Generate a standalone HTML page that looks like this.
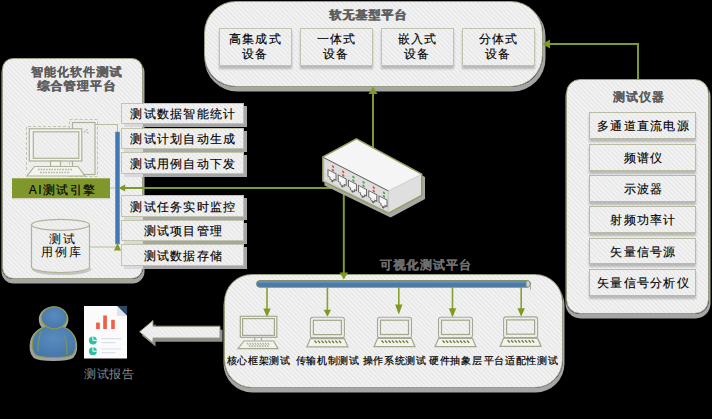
<!DOCTYPE html>
<html><head><meta charset="utf-8">
<style>
*{margin:0;padding:0;box-sizing:border-box}
html,body{width:712px;height:419px;overflow:hidden;background:#000}
body{position:relative;font-family:"Liberation Sans",sans-serif;}
.stripe{background:repeating-linear-gradient(45deg,#f2f2f2 0px,#f2f2f2 1px,#e5e5e5 2.1px,#f2f2f2 3.2px)}
.panel{position:absolute;border:1.4px solid #9a9e80;box-shadow:0.5px 3.5px 0.5px 1px #a5a5a5}
.item{position:absolute;-webkit-text-stroke:0.15px #000;border:1px solid #c2c5ad;box-shadow:3px 3px 0 #a6a6a6;font-size:12px;letter-spacing:1.3px;color:#000;text-align:center;white-space:nowrap}
.t{position:absolute;white-space:nowrap}
.title{font-size:12px;font-weight:bold;color:#5c5c5c;letter-spacing:1px;text-shadow:0.6px 0 0 currentColor}
svg{position:absolute;left:0;top:0}
</style></head><body>




<!-- top panel -->
<div class="panel stripe" style="left:204px;top:1px;width:339px;height:86px;border-radius:32px;box-shadow:1.5px 3.5px 0.5px 1px #a5a5a5"></div>
<div class="t title" style="left:329px;top:6.8px">软无基型平台</div>
<div class="item stripe" style="left:219px;top:28px;width:73px;height:38px;line-height:15px;padding-top:3px;box-shadow:0 2.5px 2px rgba(0,0,0,0.22)">高集成式<br>设备</div>
<div class="item stripe" style="left:300px;top:28px;width:73px;height:38px;line-height:15px;padding-top:3px;box-shadow:0 2.5px 2px rgba(0,0,0,0.22)">一体式<br>设备</div>
<div class="item stripe" style="left:381px;top:28px;width:73px;height:38px;line-height:15px;padding-top:3px;box-shadow:0 2.5px 2px rgba(0,0,0,0.22)">嵌入式<br>设备</div>
<div class="item stripe" style="left:462px;top:28px;width:73px;height:38px;line-height:15px;padding-top:3px;box-shadow:0 2.5px 2px rgba(0,0,0,0.22)">分体式<br>设备</div>

<!-- item shadows -->
<div style="position:absolute;left:124px;top:106px;width:123px;height:21px;background:#a6a6a6"></div>
<div style="position:absolute;left:124px;top:131px;width:123px;height:21px;background:#a6a6a6"></div>
<div style="position:absolute;left:124px;top:155px;width:123px;height:22px;background:#a6a6a6"></div>
<div style="position:absolute;left:124px;top:198px;width:123px;height:22px;background:#a6a6a6"></div>
<div style="position:absolute;left:124px;top:223px;width:123px;height:21px;background:#a6a6a6"></div>
<div style="position:absolute;left:124px;top:247px;width:123px;height:22px;background:#a6a6a6"></div>
<!-- left panel -->
<div class="panel stripe" style="left:2px;top:58px;width:141px;height:221px;border-radius:11px"></div>
<div class="t title" style="left:30.5px;top:64px;letter-spacing:1.1px">智能化软件测试</div>
<div class="t title" style="left:37px;top:77.5px;letter-spacing:1.2px">综合管理平台</div>

<div style="position:absolute;left:124px;top:124px;width:18.5px;height:3px;background:#d9d9d9"></div>
<div style="position:absolute;left:124px;top:149px;width:18.5px;height:3px;background:#d9d9d9"></div>
<div style="position:absolute;left:124px;top:174px;width:18.5px;height:3px;background:#d9d9d9"></div>
<div style="position:absolute;left:124px;top:217px;width:18.5px;height:3px;background:#d9d9d9"></div>
<div style="position:absolute;left:124px;top:241px;width:18.5px;height:3px;background:#d9d9d9"></div>
<div style="position:absolute;left:124px;top:266px;width:18.5px;height:3px;background:#d9d9d9"></div>
<!-- right panel -->
<div class="panel stripe" style="left:566px;top:79px;width:143px;height:235px;border-radius:14px"></div>
<div class="t title" style="left:612.5px;top:88.8px">测试仪器</div>

<!-- bottom panel -->
<div class="panel stripe" style="left:224px;top:274px;width:339px;height:114px;border-radius:28px"></div>
<div class="t title" style="left:380px;top:257px;color:#6e6e6e;letter-spacing:1.2px;text-shadow:0.3px 0 0 #6e6e6e">可视化测试平台</div>

<!-- list items -->
<div class="item stripe" style="left:121px;top:103px;width:123px;height:21px;box-shadow:none;line-height:21px;padding-left:2px">测试数据智能统计</div>
<div class="item stripe" style="left:121px;top:128px;width:123px;height:21px;box-shadow:none;line-height:21px;padding-left:2px">测试计划自动生成</div>
<div class="item stripe" style="left:121px;top:152px;width:123px;height:22px;box-shadow:none;line-height:22px;padding-left:2px">测试用例自动下发</div>
<div class="item stripe" style="left:121px;top:195px;width:123px;height:22px;box-shadow:none;line-height:22px;padding-left:2px">测试任务实时监控</div>
<div class="item stripe" style="left:121px;top:220px;width:123px;height:21px;box-shadow:none;line-height:21px;padding-left:2px">测试项目管理</div>
<div class="item stripe" style="left:121px;top:244px;width:123px;height:22px;box-shadow:none;line-height:22px;padding-left:2px">测试数据存储</div>

<!-- right items -->
<div class="item stripe" style="left:589px;top:112px;width:107px;height:27px;line-height:27px;padding-left:2px;box-shadow:0 2.5px 2px rgba(0,0,0,0.22);border-color:#b9bca4;border-width:1.3px">多通道直流电源</div>
<div class="item stripe" style="left:589px;top:144px;width:107px;height:27px;line-height:27px;padding-left:2px;box-shadow:0 2.5px 2px rgba(0,0,0,0.22);border-color:#b9bca4;border-width:1.3px">频谱仪</div>
<div class="item stripe" style="left:589px;top:175px;width:107px;height:27px;line-height:27px;padding-left:2px;box-shadow:0 2.5px 2px rgba(0,0,0,0.22);border-color:#b9bca4;border-width:1.3px">示波器</div>
<div class="item stripe" style="left:589px;top:206px;width:107px;height:27px;line-height:27px;padding-left:2px;box-shadow:0 2.5px 2px rgba(0,0,0,0.22);border-color:#b9bca4;border-width:1.3px">射频功率计</div>
<div class="item stripe" style="left:589px;top:238px;width:107px;height:26px;line-height:26px;padding-left:2px;box-shadow:0 2.5px 2px rgba(0,0,0,0.22);border-color:#b9bca4;border-width:1.3px">矢量信号源</div>
<div class="item stripe" style="left:589px;top:269px;width:107px;height:27px;line-height:27px;padding-left:2px;box-shadow:0 2.5px 2px rgba(0,0,0,0.22);border-color:#b9bca4;border-width:1.3px">矢量信号分析仪</div>

<svg width="712" height="419">
<defs>
<pattern id="st" patternUnits="userSpaceOnUse" width="4.5" height="4.5"><rect width="4.5" height="4.5" fill="#f2f2f2"/><path d="M-1 3.5 l2 2 M0 0 l4.5 4.5 M3.5 -1 l2 2" stroke="#e6e6e6" stroke-width="1.4"/></pattern>
</defs>
<g stroke="#80992c" stroke-width="2" fill="none">
<path d="M373 94 V148"/>
<path d="M549 44 H638 V79"/>
<path d="M125 188 H343.8 V273"/>
</g>
<g fill="#7f9a22">
<path d="M373 86.5 L377.5 94 L368.5 94 Z"/>
<path d="M542.5 44 L550 39.5 L550 48.5 Z"/>
<path d="M343.8 279.5 L339.6 272.5 L348 272.5 Z"/>
</g>


<!-- left arrowhead -->
<path d="M118.4 188 L125.2 184.6 L125.2 191.4 Z" fill="#7f9a22"/>
<!-- switch -->
<g>
<path d="M358.5 141.5 L425 177 V199 L390.6 217.5 L324.5 185.5 V160 Z" fill="#a8a8a8"/>
<path d="M356.4 139 L421.6 174.3 V195.2 L388.6 213 L323 181 V157 Z" fill="#e8e8e8" stroke="#8e9b5c" stroke-width="1.6" stroke-linejoin="round"/>
<path d="M356.4 139 L421.6 174.3 L388.6 190.8 L323 157 Z" fill="#f5f5f5"/>
<path d="M388.6 190.8 L421.6 174.3 V195.2 L388.6 213 Z" fill="#dfdfdf"/>
<path d="M323 157 L388.6 190.8 V213 L323 181 Z" fill="#d4d4d4"/>
<path d="M325 159.5 L387 191.5 V211 L325 179.5 Z" fill="#dedede"/>
<path d="M356.4 139 L421.6 174.3 V195.2 L388.6 213 L323 181 V157 Z" fill="none" stroke="#94a062" stroke-width="1.2" stroke-linejoin="round"/>
<path d="M323.5 157.5 L388.6 191" fill="none" stroke="#555" stroke-width="0.9"/><path d="M388.6 190.8 L421.6 174.3 M388.6 190.8 V213" fill="none" stroke="#c4c4c4" stroke-width="0.7"/>
<g transform="matrix(1,0.515,0,1,323,157)">
<path d="M5.0 10 h8 v6.5 h-2 v2 h-1.5 v1.5 h-1 v-1.5 h-1.5 v-2 h-2 Z" fill="#f6f6f6" stroke="#5a5a5a" stroke-width="0.9"/>
<circle cx="10.0" cy="4.5" r="1.2" fill="#c85550"/><circle cx="10.0" cy="8" r="1.2" fill="#c85550"/>
<path d="M15.2 10 h8 v6.5 h-2 v2 h-1.5 v1.5 h-1 v-1.5 h-1.5 v-2 h-2 Z" fill="#f6f6f6" stroke="#5a5a5a" stroke-width="0.9"/>
<circle cx="20.2" cy="4.5" r="1.2" fill="#c85550"/><circle cx="20.2" cy="8" r="1.2" fill="#c85550"/>
<path d="M25.4 10 h8 v6.5 h-2 v2 h-1.5 v1.5 h-1 v-1.5 h-1.5 v-2 h-2 Z" fill="#f6f6f6" stroke="#5a5a5a" stroke-width="0.9"/>
<circle cx="30.4" cy="4.5" r="1.2" fill="#4fa048"/><circle cx="30.4" cy="8" r="1.2" fill="#4fa048"/>
<path d="M35.599999999999994 10 h8 v6.5 h-2 v2 h-1.5 v1.5 h-1 v-1.5 h-1.5 v-2 h-2 Z" fill="#f6f6f6" stroke="#5a5a5a" stroke-width="0.9"/>
<circle cx="40.599999999999994" cy="4.5" r="1.2" fill="#4fa048"/><circle cx="40.599999999999994" cy="8" r="1.2" fill="#4fa048"/>
<path d="M45.8 10 h8 v6.5 h-2 v2 h-1.5 v1.5 h-1 v-1.5 h-1.5 v-2 h-2 Z" fill="#f6f6f6" stroke="#5a5a5a" stroke-width="0.9"/>
<circle cx="50.8" cy="4.5" r="1.2" fill="#c85550"/><circle cx="50.8" cy="8" r="1.2" fill="#c85550"/>
<path d="M56.0 10 h8 v6.5 h-2 v2 h-1.5 v1.5 h-1 v-1.5 h-1.5 v-2 h-2 Z" fill="#f6f6f6" stroke="#5a5a5a" stroke-width="0.9"/>
<circle cx="61.0" cy="4.5" r="1.2" fill="#4fa048"/><circle cx="61.0" cy="8" r="1.2" fill="#4fa048"/>
</g>
</g>
<!-- left computer -->
<g stroke="#c3c5b3" fill="none" stroke-width="1" stroke-dasharray="3 2">
<path d="M26.5 170 V126.5 H69.5"/>
<rect x="69.5" y="119.5" width="28" height="57"/>
</g>
<g stroke="#aeb196" fill="url(#st)" stroke-width="1.2">
<rect x="72.5" y="122.5" width="22.5" height="52"/>
<rect x="29.3" y="128.8" width="52.5" height="32.2" fill="#f3f3f0"/>
<rect x="33.3" y="131.8" width="45.5" height="26.5"/>
<rect x="50.5" y="161" width="10" height="5.5" fill="#f3f3f0"/>
<path d="M34.5 166.5 H78 L85 176 H27 Z" fill="#f3f3f0"/>
</g>
<g fill="#b5b7a3">
<rect x="86" y="129" width="1.5" height="1.5"/><rect x="84" y="131" width="1.5" height="1.5"/><rect x="87" y="132" width="1.5" height="1.5"/>
</g>
<path d="M38 169.5 H73 M40 172.5 H70" stroke="#b3b5a2" stroke-width="1.4" stroke-dasharray="1.6 1.1"/>
<!-- connectors -->
<path d="M95 124.5 H117.5 V132 M89 247 H117 M110 188 H116" stroke="#b8bba2" stroke-width="1" fill="none"/>
<!-- AI box -->
<rect x="12" y="178.3" width="98" height="20" fill="#7f972b"/>
<rect x="12.5" y="198.3" width="98" height="1" fill="#d4d4cc"/>
<!-- cylinder -->
<path d="M32.5 268.5 A29 5.5 0 0 0 90.5 268.5" stroke="#c4c4c4" stroke-width="2.2" fill="none"/>
<g stroke="#b0b39a" stroke-width="1.2" fill="url(#st)">
<path d="M31.5 224.8 V267 A29 5.5 0 0 0 89.5 267 V224.8"/>
<ellipse cx="60.5" cy="224.8" rx="29" ry="5.5"/>
</g>
<!-- left blue bar -->
<rect x="115.3" y="132" width="4.4" height="112" fill="#3f78b4" stroke="#8e9c62" stroke-width="0.6"/>
<path d="M117.5 243 L121 250.5 L114 250.5 Z" fill="#7f9a22"/>
<!-- bottom blue bar -->
<rect x="256.5" y="280.5" width="274" height="6.8" rx="3.4" fill="#4a7bb0" stroke="#7c8c50" stroke-width="0.8"/>
<rect x="258" y="281.2" width="270" height="1.6" fill="#7fa3c8" opacity="0.6"/>
<ellipse cx="528" cy="283.9" rx="2" ry="3.2" fill="#c7d2dc" stroke="#7c8c50" stroke-width="0.6"/>
<path d="M530.5 284 V290" stroke="#9aa080" stroke-width="0.8"/>
<!-- bottom arrows -->
<g stroke="#86a032" stroke-width="1.6"><path d="M267 287 V309 M327.4 287 V310 M398.8 287 V305 M452.5 287 V309 M521.2 287 V309"/></g>
<g fill="#7f9a22">
<path d="M267 317.3 L263.3 308.5 L270.7 308.5 Z"/>
<path d="M327.4 316.7 L323.7 309.8 L331.1 309.8 Z"/>
<path d="M398.8 314.5 L395.1 304.4 L402.5 304.4 Z"/>
<path d="M452.5 317.6 L448.8 308.3 L456.2 308.3 Z"/>
<path d="M521.2 316.8 L517.5 308.2 L524.9 308.2 Z"/>
</g>
<!-- desktop in bottom -->
<g stroke="#a5a98d" stroke-width="1.2" fill="none">
<rect x="240.3" y="316.3" width="36.5" height="21"/>
<rect x="242.6" y="318.6" width="31.8" height="16.8"/>
<path d="M254.8 337.3 V340.6 M261.5 337.3 V340.6"/>
<path d="M244 341 H273.7 L278 348.6 H238 Z" fill="#f1f1ed"/>
</g>
<g stroke="#a6a993" stroke-width="1.1">
<path d="M247.0 343 l1.4 1.6"/><path d="M249.6 343 l1.4 1.6"/><path d="M252.2 343 l1.4 1.6"/><path d="M254.8 343 l1.4 1.6"/><path d="M257.4 343 l1.4 1.6"/><path d="M260.0 343 l1.4 1.6"/><path d="M262.6 343 l1.4 1.6"/><path d="M265.2 343 l1.4 1.6"/><path d="M267.8 343 l1.4 1.6"/><path d="M249.0 345.3 l1.4 1.6"/><path d="M251.6 345.3 l1.4 1.6"/><path d="M254.2 345.3 l1.4 1.6"/><path d="M256.8 345.3 l1.4 1.6"/><path d="M259.4 345.3 l1.4 1.6"/><path d="M262.0 345.3 l1.4 1.6"/><path d="M264.6 345.3 l1.4 1.6"/><path d="M267.2 345.3 l1.4 1.6"/></g>
<g transform="translate(327.4,317.3)">
<rect x="-17" y="0" width="34" height="20.8" rx="2.5" fill="none" stroke="#a7aa8f" stroke-width="1.1"/>
<rect x="-14" y="3" width="28" height="14.3" fill="none" stroke="#a3a78b" stroke-width="1.2"/>
<path d="M-16.5 20.8 H16.5" stroke="#a3a78b" stroke-width="1.6"/>
<path d="M-17 21.3 H17 L20.5 29.5 H-20.5 Z" fill="#f3f3ef" stroke="#a3a78b" stroke-width="1.2"/>
<g stroke="#6d7838" stroke-width="1.3"><path d="M-13.0 23.3 l2.2 2.4"/><path d="M-9.5 23.3 l2.2 2.4"/><path d="M-6.0 23.3 l2.2 2.4"/><path d="M-2.5 23.3 l2.2 2.4"/><path d="M1.0 23.3 l2.2 2.4"/><path d="M4.5 23.3 l2.2 2.4"/><path d="M8.0 23.3 l2.2 2.4"/><path d="M11.5 23.3 l2.2 2.4"/></g></g>
<g transform="translate(394.5,317.2)">
<rect x="-17" y="0" width="34" height="20.8" rx="2.5" fill="none" stroke="#a7aa8f" stroke-width="1.1"/>
<rect x="-14" y="3" width="28" height="14.3" fill="none" stroke="#a3a78b" stroke-width="1.2"/>
<path d="M-16.5 20.8 H16.5" stroke="#a3a78b" stroke-width="1.6"/>
<path d="M-17 21.3 H17 L20.5 29.5 H-20.5 Z" fill="#f3f3ef" stroke="#a3a78b" stroke-width="1.2"/>
<g stroke="#6d7838" stroke-width="1.3"><path d="M-13.0 23.3 l2.2 2.4"/><path d="M-9.5 23.3 l2.2 2.4"/><path d="M-6.0 23.3 l2.2 2.4"/><path d="M-2.5 23.3 l2.2 2.4"/><path d="M1.0 23.3 l2.2 2.4"/><path d="M4.5 23.3 l2.2 2.4"/><path d="M8.0 23.3 l2.2 2.4"/><path d="M11.5 23.3 l2.2 2.4"/></g></g>
<g transform="translate(455.5,317.2)">
<rect x="-17" y="0" width="34" height="20.8" rx="2.5" fill="none" stroke="#a7aa8f" stroke-width="1.1"/>
<rect x="-14" y="3" width="28" height="14.3" fill="none" stroke="#a3a78b" stroke-width="1.2"/>
<path d="M-16.5 20.8 H16.5" stroke="#a3a78b" stroke-width="1.6"/>
<path d="M-17 21.3 H17 L20.5 29.5 H-20.5 Z" fill="#f3f3ef" stroke="#a3a78b" stroke-width="1.2"/>
<g stroke="#6d7838" stroke-width="1.3"><path d="M-13.0 23.3 l2.2 2.4"/><path d="M-9.5 23.3 l2.2 2.4"/><path d="M-6.0 23.3 l2.2 2.4"/><path d="M-2.5 23.3 l2.2 2.4"/><path d="M1.0 23.3 l2.2 2.4"/><path d="M4.5 23.3 l2.2 2.4"/><path d="M8.0 23.3 l2.2 2.4"/><path d="M11.5 23.3 l2.2 2.4"/></g></g>
<g transform="translate(520.6,316.9)">
<rect x="-17" y="0" width="34" height="20.8" rx="2.5" fill="none" stroke="#a7aa8f" stroke-width="1.1"/>
<rect x="-14" y="3" width="28" height="14.3" fill="none" stroke="#a3a78b" stroke-width="1.2"/>
<path d="M-16.5 20.8 H16.5" stroke="#a3a78b" stroke-width="1.6"/>
<path d="M-17 21.3 H17 L20.5 29.5 H-20.5 Z" fill="#f3f3ef" stroke="#a3a78b" stroke-width="1.2"/>
<g stroke="#6d7838" stroke-width="1.3"><path d="M-13.0 23.3 l2.2 2.4"/><path d="M-9.5 23.3 l2.2 2.4"/><path d="M-6.0 23.3 l2.2 2.4"/><path d="M-2.5 23.3 l2.2 2.4"/><path d="M1.0 23.3 l2.2 2.4"/><path d="M4.5 23.3 l2.2 2.4"/><path d="M8.0 23.3 l2.2 2.4"/><path d="M11.5 23.3 l2.2 2.4"/></g></g>
<!-- big arrow -->
<path d="M142 335.5 L155.5 324 V329.8 H222.5 V341.8 H155.5 V346.5 Z" fill="#8e8e8e"/>
<path d="M139.6 331.8 L153 320.5 V326.2 H220 V338.1 H153 V343 Z" fill="url(#st)" stroke="#8f9478" stroke-width="1"/>
<!-- person -->
<g>
<g fill="#a2a2a2" stroke="#a2a2a2" stroke-width="4" stroke-linejoin="round" transform="translate(-0.6,1.6)">
<path d="M54 325.5 C43 325.5 35 331 33 339 C31.5 345 32 351 35.5 354.8 C39 357.2 46 357.5 54 357.5 C62 357.5 69 357.2 72.5 354.8 C76 351 76.5 345 75 339 C73 331 65 325.5 54 325.5 Z"/>
<ellipse cx="54.2" cy="317.8" rx="12.8" ry="11"/>
</g>
<radialGradient id="pg" cx="0.5" cy="0.4" r="0.6"><stop offset="0" stop-color="#5a8bbf"/><stop offset="1" stop-color="#4677ab"/></radialGradient>
<path d="M54 325.5 C43 325.5 35 331 33 339 C31.5 345 32 351 35.5 354.8 C39 357.2 46 357.5 54 357.5 C62 357.5 69 357.2 72.5 354.8 C76 351 76.5 345 75 339 C73 331 65 325.5 54 325.5 Z" fill="url(#pg)" stroke="#8d9a45" stroke-width="1.2"/>
<ellipse cx="54.2" cy="317.8" rx="12.8" ry="11" fill="url(#pg)" stroke="#8d9a45" stroke-width="1.2"/>
<path d="M41.5 331 C38.5 338 37.5 345 38 351.5 M64.5 335.5 C66.5 342 67 348 67 355" stroke="#8d9a45" stroke-width="0.9" fill="none"/>
</g>
<!-- report -->
<rect x="84" y="306" width="43" height="52.5" fill="#fbfbfb"/>
<path d="M117 306 H127 V316 Z" fill="#2e4b64"/>
<path d="M117 306 V316 H127 Z" fill="#dfe4ea"/>
<g fill="#f05f45"><rect x="96.1" y="322.6" width="3.7" height="6.4"/><rect x="103.2" y="315.5" width="3.7" height="13.5"/><rect x="111.2" y="319.8" width="3.6" height="9.2"/></g>
<g fill="#2cc1a6"><circle cx="92.9" cy="340.4" r="4"/><circle cx="92.9" cy="351.2" r="4"/></g>
<g stroke="#fbfbfb" stroke-width="1"><path d="M92.9 340.4 V336 M92.9 340.4 H97.3 M92.9 351.2 V346.8 M92.9 351.2 H97.3"/></g>
<g stroke="#d9e0e8" stroke-width="1.2"><path d="M101.5 338.7 H121 M101.5 342.6 H115.5 M101.5 349 H121 M101.5 352.7 H115.5"/></g>
</svg>

<div class="t" style="left:28.8px;top:181.5px;font-size:12px;letter-spacing:1.45px;color:#000;-webkit-text-stroke:0.15px #000">AI测试引擎</div>
<div class="t" style="left:48.5px;top:231px;font-size:12px;letter-spacing:2.2px;color:#000">测试</div>
<div class="t" style="left:41px;top:244px;font-size:12px;letter-spacing:1.8px;color:#000">用例库</div>
<div class="t" style="left:226.5px;top:354px;font-size:10px;color:#000;letter-spacing:0.7px;-webkit-text-stroke:0.2px #000">核心框架测试</div>
<div class="t" style="left:295.5px;top:354px;font-size:10px;color:#000;letter-spacing:0.7px;-webkit-text-stroke:0.2px #000">传输机制测试</div>
<div class="t" style="left:362.5px;top:354px;font-size:10px;color:#000;letter-spacing:0.7px;-webkit-text-stroke:0.2px #000">操作系统测试</div>
<div class="t" style="left:429px;top:354px;font-size:10px;color:#000;letter-spacing:0.7px;-webkit-text-stroke:0.2px #000">硬件抽象层</div>
<div class="t" style="left:483.7px;top:354px;font-size:10px;color:#000;letter-spacing:0.7px;-webkit-text-stroke:0.2px #000">平台适配性测试</div>
<div class="t" style="left:84px;top:366px;font-size:12px;letter-spacing:0.6px;color:#8a8a8a">测试报告</div>
</body></html>
